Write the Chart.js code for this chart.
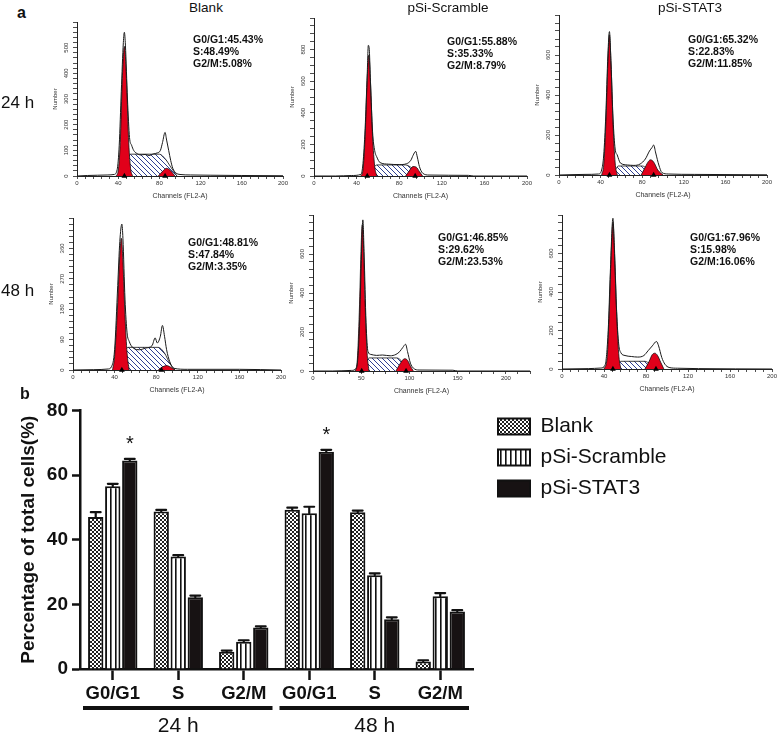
<!DOCTYPE html>
<html><head><meta charset="utf-8">
<script src="https://cdn.jsdelivr.net/npm/chart.js@4.4.0/dist/chart.umd.min.js"></script>
<style>
body{margin:0;background:#fff;width:780px;height:740px;position:relative;overflow:hidden;font-family:"Liberation Sans",Arial,sans-serif;color:#111;}
canvas{position:absolute;}
.t{position:absolute;white-space:nowrap;line-height:1;}
.title{font-size:13.5px;transform:translateX(-50%);}
.time{font-size:17px;}
.panel{font-size:16px;font-weight:bold;}
.stat{position:absolute;font-weight:bold;font-size:10.5px;line-height:12px;white-space:nowrap;}
</style></head><body>
<canvas id="h0"></canvas><canvas id="h1"></canvas><canvas id="h2"></canvas>
<canvas id="h3"></canvas><canvas id="h4"></canvas><canvas id="h5"></canvas>
<canvas id="bars"></canvas>
<div class="t panel" style="left:17px;top:5px;">a</div>
<div class="t panel" style="left:20px;top:386px;">b</div>
<div class="t title" style="left:206px;top:1px;">Blank</div>
<div class="t title" style="left:448px;top:1px;">pSi-Scramble</div>
<div class="t title" style="left:690px;top:1px;">pSi-STAT3</div>
<div class="t time" style="left:1px;top:94px;">24 h</div>
<div class="t time" style="left:1px;top:282px;">48 h</div>
<div id="stats"></div>
<script>
// ---------- data: panel b (bar chart) ----------
const cellLines = ['Blank', 'pSi-Scramble', 'pSi-STAT3'];
const timePoints = ['24 h', '48 h'];
const barCategories = ['G0/G1', 'S', 'G2/M', 'G0/G1', 'S', 'G2/M'];
const blankValues = [47.0, 48.7, 5.3, 49.3, 48.5, 2.3];
const blankErrors = [1.5, 0.5, 0.4, 0.6, 0.5, 0.4];
const scrambleValues = [56.5, 34.8, 8.4, 48.2, 29.0, 22.5];
const scrambleErrors = [0.8, 0.4, 0.5, 2.0, 0.6, 1.0];
const stat3Values = [64.5, 22.2, 12.8, 67.2, 15.4, 17.8];
const stat3Errors = [0.5, 0.5, 0.4, 0.6, 0.6, 0.4];
const stat3Marks = ['*', '', '', '*', '', ''];
const percentTicks = [0, 20, 40, 60, 80];

// ---------- data: panel a (flow cytometry histograms) ----------
const blank24Curve = [[0,0],[10,2],[20,3],[30,4],[36,6],[39,25],[41,120],[43,330],[45,520],[46,560],[47,510],[49,300],[51,150],[53,120],[55,100],[58,88],[62,82],[66,84],[70,80],[74,86],[78,90],[81,100],[83,130],[85.5,170],[87,140],[89,100],[91,60],[93,30],[96,12],[100,6],[110,4],[130,3],[160,2],[200,1]];
const blank24G1 = [[38,0],[40,20],[42,130],[44,380],[46,505],[48,380],[50,150],[52,30],[54,0]];
const blank24S = [[43,0],[47,40],[52,85],[80,85],[86,65],[91,35],[97,0]];
const blank24G2 = [[79,0],[83,18],[87,30],[91,20],[95,0]];
const blank24Peaks = [46, 85.5];
const blank24Stats = ['G0/G1:45.43%', 'S:48.49%', 'G2/M:5.08%'];

const scr24Curve = [[0,0],[20,0],[35,3],[44,10],[46,80],[48,300],[50,650],[51,827],[52,790],[53,600],[55,280],[57,160],[59,120],[62,85],[70,75],[80,72],[87,78],[91,100],[93,130],[95.5,156],[97,120],[99,60],[102,18],[108,6],[145,4],[150,0],[200,0]];
const scr24G1 = [[44,0],[46,40],[48,250],[50,620],[51.5,765],[53,600],[55,250],[57,60],[59,0]];
const scr24S = [[50,0],[55,45],[59,70],[86,70],[92,50],[97,20],[101,0]];
const scr24G2 = [[86,0],[89,28],[93,60],[96,56],[99,28],[102,0]];
const scr24Peaks = [50, 95];
const scr24Stats = ['G0/G1:55.88%', 'S:35.33%', 'G2/M:8.79%'];

const stat24Curve = [[0,0],[25,3],[38,5],[41,25],[43,100],[45,300],[47,600],[48.5,717],[50,560],[52,280],[54,130],[56,100],[59,60],[66,50],[72,48],[78,55],[83,80],[87,120],[89.5,138],[91,150],[93,110],[96,50],[99,12],[105,5],[130,3],[200,1]];
const stat24G1 = [[41,0],[43,50],[45,250],[47,560],[48.5,700],[50,560],[52,250],[54,60],[56,0]];
const stat24S = [[50,0],[54,25],[57,45],[80,45],[85,30],[88,10],[91,0]];
const stat24G2 = [[79,0],[83,40],[86,68],[88,76],[91,65],[95,25],[100,0]];
const stat24Peaks = [48.5, 91];
const stat24Stats = ['G0/G1:65.32%', 'S:22.83%', 'G2/M:11.85%'];

const blank48Curve = [[0,0],[20,1],[34,3],[37,10],[40,60],[43,250],[45,380],[47,432],[48,390],[50,210],[52,110],[54,85],[58,65],[64,60],[70,65],[76,72],[79,95],[81,80],[84,100],[86,132],[88,100],[90,60],[93,25],[97,5],[110,2],[160,2],[200,0]];
const blank48G1 = [[38,0],[40,40],[43,200],[45,340],[46.5,390],[48,320],[50,160],[52,50],[54,0]];
const blank48S = [[42,0],[46,30],[53,67],[82,67],[88,50],[93,20],[98,0]];
const blank48G2 = [[82,0],[86,9],[90,13],[94,8],[98,0]];
const blank48Peaks = [47, 85];
const blank48Stats = ['G0/G1:48.81%', 'S:47.84%', 'G2/M:3.35%'];

const scr48Curve = [[0,0],[20,0],[40,3],[45,15],[48,200],[50,550],[51.7,775],[53,600],[55,250],[57,100],[60,85],[66,80],[72,82],[80,78],[86,85],[90,100],[93,120],[96,137],[98,100],[101,40],[104,15],[110,5],[145,4],[150,0],[225,0]];
const scr48G1 = [[44,0],[46,60],[48,300],[50,650],[51,750],[52,700],[54,350],[56,100],[58,0]];
const scr48S = [[51,0],[55,40],[58,67],[87,67],[93,45],[97,20],[100,0]];
const scr48G2 = [[86,0],[90,35],[95,63],[98,55],[101,25],[104,0]];
const scr48Peaks = [50.5, 96.5];
const scr48Stats = ['G0/G1:46.85%', 'S:29.62%', 'G2/M:23.53%'];

const stat48Curve = [[0,0],[25,2],[37,5],[41,20],[44,200],[46,500],[48.5,783],[50,600],[52,300],[54,130],[56,85],[60,70],[66,65],[72,62],[78,70],[82,95],[86,120],[90,143],[92,120],[95,60],[98,25],[102,8],[110,4],[130,2],[200,0]];
const stat48G1 = [[40,0],[43,60],[45,300],[47,620],[48.5,760],[50,620],[52,300],[54,80],[56,0]];
const stat48S = [[48,0],[52,20],[56,40],[79,40],[84,25],[88,8],[90,0]];
const stat48G2 = [[79,0],[83,40],[86,75],[88.5,82],[91,70],[94,35],[97,0]];
const stat48Peaks = [48.5, 89.5];
const stat48Stats = ['G0/G1:67.96%', 'S:15.98%', 'G2/M:16.06%'];

// axis ranges / tick labels of each histogram
const histYMax = [600, 1000, 800, 450, 800, 800];
const histYMinor = [20, 50, 40, 18, 40, 40];
const histYLabels = [[0,100,200,300,400,500],[0,200,400,600,800],[0,200,400,600],[0,90,180,270,360],[0,200,400,600],[0,200,400,600]];
const histXMax = [200, 200, 200, 200, 225, 200];
const histXMinor = [8, 8, 8, 8, 12.5, 8];
const histXLabels = [[0,40,80,120,160,200],[0,40,80,120,160,200],[0,40,80,120,160,200],[0,40,80,120,160,200],[0,50,100,150,200],[0,40,80,120,160,200]];

// ---------- layout (page pixels) ----------
const histBoxes = [
  {L:77, T:22, R:283, B:176}, {L:314, T:18, R:527, B:176}, {L:559, T:15, R:767, B:175},
  {L:73, T:218, R:281, B:370}, {L:313, T:215, R:530, B:371}, {L:562, T:215, R:772, B:369}
];
const statPos = [[193,33],[447,35],[688,33],[188,236],[438,231],[690,231]];

Chart.defaults.font.family = '"Liberation Sans", Arial, sans-serif';
Chart.defaults.color = '#111';

function makePattern(w, h, draw) {
  const c = document.createElement('canvas'); c.width = w; c.height = h;
  const g = c.getContext('2d'); draw(g);
  return g.createPattern(c, 'repeat');
}
const hatch = makePattern(5, 5, g => {
  g.fillStyle = '#fff'; g.fillRect(0, 0, 5, 5);
  g.strokeStyle = '#2f3f93'; g.lineWidth = 1;
  g.beginPath(); g.moveTo(-1, -1); g.lineTo(6, 6); g.moveTo(-1, 4); g.lineTo(1, 6); g.moveTo(4, -1); g.lineTo(6, 1); g.stroke();
});
const checker = makePattern(4, 4, g => {
  g.fillStyle = '#fff'; g.fillRect(0, 0, 4, 4);
  g.fillStyle = '#222'; g.fillRect(0, 0, 2, 2); g.fillRect(2, 2, 2, 2);
});
const stripes = makePattern(5, 5, g => {
  g.fillStyle = '#fff'; g.fillRect(0, 0, 5, 5);
  g.fillStyle = '#111'; g.fillRect(0, 0, 1.6, 5);
});
const RED = '#e1001a';

const histSets = [
  [blank24Curve, blank24G1, blank24S, blank24G2, blank24Peaks, blank24Stats],
  [scr24Curve, scr24G1, scr24S, scr24G2, scr24Peaks, scr24Stats],
  [stat24Curve, stat24G1, stat24S, stat24G2, stat24Peaks, stat24Stats],
  [blank48Curve, blank48G1, blank48S, blank48G2, blank48Peaks, blank48Stats],
  [scr48Curve, scr48G1, scr48S, scr48G2, scr48Peaks, scr48Stats],
  [stat48Curve, stat48G1, stat48S, stat48G2, stat48Peaks, stat48Stats]
];

function near(list, v) { return list.some(x => Math.abs(x - v) < 1e-6); }

histSets.forEach((set, i) => {
  const [curve, g1, s, g2, peaks, stats] = set;
  const box = histBoxes[i];
  const padL = 25, padR = 10, padT = 6, padB = 24;
  const cv = document.getElementById('h' + i);
  cv.width = box.R - box.L + padL + padR;
  cv.height = box.B - box.T + padT + padB;
  cv.style.left = (box.L - padL) + 'px';
  cv.style.top = (box.T - padT) + 'px';
  const area = {pointRadius: 0, borderColor: '#111', borderWidth: 0.8, fill: 'origin', cubicInterpolationMode: 'monotone'};
  new Chart(cv, {
    type: 'line',
    data: {datasets: [
      {data: curve, borderColor: '#1a1a1a', borderWidth: 1, pointRadius: 0, fill: false, cubicInterpolationMode: 'monotone', order: 0},
      {data: peaks.map(p => [p, 0]), showLine: false, pointStyle: 'triangle', pointRadius: 3.3, backgroundColor: '#000', borderColor: '#000', borderWidth: 0, clip: false, order: -1},
      Object.assign({data: g1, backgroundColor: RED, order: 1}, area),
      Object.assign({data: g2, backgroundColor: RED, order: 1}, area),
      Object.assign({data: s, backgroundColor: hatch, order: 2}, area)
    ]},
    options: {
      responsive: false, animation: false, devicePixelRatio: 1,
      layout: {padding: {top: padT, right: padR, left: 0, bottom: 0}, autoPadding: false},
      plugins: {legend: {display: false}, tooltip: {enabled: false}},
      scales: {
        x: {type: 'linear', min: 0, max: histXMax[i],
          afterFit: sc => { sc.height = padB; },
          border: {color: '#222', width: 1},
          grid: {drawOnChartArea: false, tickLength: 3, color: '#222', lineWidth: 0.8},
          ticks: {stepSize: histXMinor[i], autoSkip: false, maxRotation: 0, padding: 1, font: {size: 6}, color: '#333',
            callback: v => near(histXLabels[i], v) ? String(v) : ''},
          title: {display: true, text: 'Channels (FL2-A)', font: {size: 7}, color: '#333', padding: {top: 0, bottom: 0}}
        },
        y: {min: 0, max: histYMax[i],
          afterFit: sc => { sc.width = padL; },
          border: {color: '#222', width: 1},
          grid: {drawOnChartArea: false, tickLength: 4, color: '#222', lineWidth: 0.8},
          ticks: {stepSize: histYMinor[i], autoSkip: false, minRotation: 90, maxRotation: 90, crossAlign: 'center', padding: 2, font: {size: 6}, color: '#333',
            callback: v => near(histYLabels[i], v) ? String(v) : ''},
          title: {display: true, text: 'Number', font: {size: 6}, color: '#333', padding: {top: 0, bottom: 0}}
        }
      }
    }
  });
  const d = document.createElement('div');
  d.className = 'stat';
  d.style.left = statPos[i][0] + 'px'; d.style.top = statPos[i][1] + 'px';
  d.innerHTML = stats.join('<br>');
  document.getElementById('stats').appendChild(d);
});

// ---------- panel b ----------
const barExtras = {
  id: 'barExtras',
  beforeLayout(chart) {
    const lg = chart.legend;
    if (lg && !lg.__fixed) {
      lg.__fixed = true;
      const orig = lg.fit;
      lg.fit = function () { orig.call(this); this.width = 307; };
    }
  },
  afterLayout(chart) {
    const lg = chart.legend;
    lg.left += 15; lg.right += 15; lg.top -= 3; lg.bottom -= 3;
  },
  afterDatasetsDraw(chart) {
    const ctx = chart.ctx, y = chart.scales.y, x = chart.scales.x, x2 = chart.scales.x2;
    ctx.save();
    ctx.strokeStyle = '#111'; ctx.fillStyle = '#111';
    chart.data.datasets.forEach((ds, di) => {
      const meta = chart.getDatasetMeta(di);
      meta.data.forEach((bar, i) => {
        const top = y.getPixelForValue(ds.data[i] + ds.errors[i]);
        const w = bar.width;
        ctx.lineWidth = 2.2; ctx.lineCap = 'round';
        ctx.beginPath();
        ctx.moveTo(bar.x, bar.y); ctx.lineTo(bar.x, top);
        ctx.moveTo(bar.x - w * 0.32, top); ctx.lineTo(bar.x + w * 0.32, top);
        ctx.stroke();
        if (ds.marks && ds.marks[i]) {
          ctx.font = '20px "Liberation Sans", Arial, sans-serif';
          ctx.textAlign = 'center'; ctx.textBaseline = 'middle';
          ctx.fillText(ds.marks[i], bar.x, top - 14);
        }
      });
    });
    // group underline for each time point
    const half = (x.getPixelForValue(1) - x.getPixelForValue(0)) / 2;
    const per = barCategories.length / timePoints.length;
    ctx.lineWidth = 4; ctx.lineCap = 'butt';
    timePoints.forEach((tp, g) => {
      const a = x.getPixelForValue(g * per) - half + 3;
      const b = x.getPixelForValue(g * per + per - 1) + half - 4;
      ctx.beginPath(); ctx.moveTo(a, x2.top + 3); ctx.lineTo(b, x2.top + 3); ctx.stroke();
    });
    ctx.restore();
  }
};

const bc = document.getElementById('bars');
bc.width = 780; bc.height = 345;
bc.style.left = '0px'; bc.style.top = '395px';
new Chart(bc, {
  type: 'bar',
  data: {labels: barCategories, datasets: [
    {label: cellLines[0], data: blankValues, errors: blankErrors, backgroundColor: checker, borderColor: '#111', borderWidth: 2},
    {label: cellLines[1], data: scrambleValues, errors: scrambleErrors, backgroundColor: stripes, borderColor: '#111', borderWidth: 2},
    {label: cellLines[2], data: stat3Values, errors: stat3Errors, marks: stat3Marks, backgroundColor: '#171213', borderColor: '#111', borderWidth: 2}
  ]},
  options: {
    responsive: false, animation: false, devicePixelRatio: 1,
    layout: {padding: {top: 14, right: 0, left: 0, bottom: 0}, autoPadding: false},
    datasets: {bar: {categoryPercentage: 0.78, barPercentage: 0.9}},
    plugins: {
      legend: {position: 'right', align: 'start', labels: {boxWidth: 32, boxHeight: 16, padding: 10, font: {size: 21}, color: '#111'}},
      tooltip: {enabled: false}
    },
    scales: {
      x: {offset: true, weight: 0,
        grid: {offset: false, drawOnChartArea: false, tickLength: 11, tickWidth: 2.5, tickColor: '#111'},
        border: {color: '#111', width: 2.5},
        ticks: {font: {size: 18.5, weight: 'bold'}, color: '#111', padding: 3, maxRotation: 0, autoSkip: false},
        afterFit: sc => { sc.height = 36; }
      },
      x2: {type: 'category', labels: timePoints, position: 'bottom', offset: true, weight: 1,
        grid: {display: false}, border: {display: false},
        ticks: {font: {size: 21}, color: '#111', padding: 1, maxRotation: 0},
        afterFit: sc => { sc.height = 35; }
      },
      y: {min: 0, max: 80,
        afterBuildTicks: sc => { sc.ticks = percentTicks.map(v => ({value: v})); },
        ticks: {font: {size: 19, weight: 'bold'}, color: '#111', padding: 4},
        grid: {drawOnChartArea: false, tickLength: 8, tickWidth: 2.5, tickColor: '#111'},
        border: {color: '#111', width: 2.5},
        title: {display: true, text: 'Percentage of total cells(%)', font: {size: 19, weight: 'bold'}, color: '#111', padding: {top: 17, bottom: 0}},
        afterFit: sc => { sc.width = 80; }
      }
    }
  },
  plugins: [barExtras]
});
</script>
</body></html>
